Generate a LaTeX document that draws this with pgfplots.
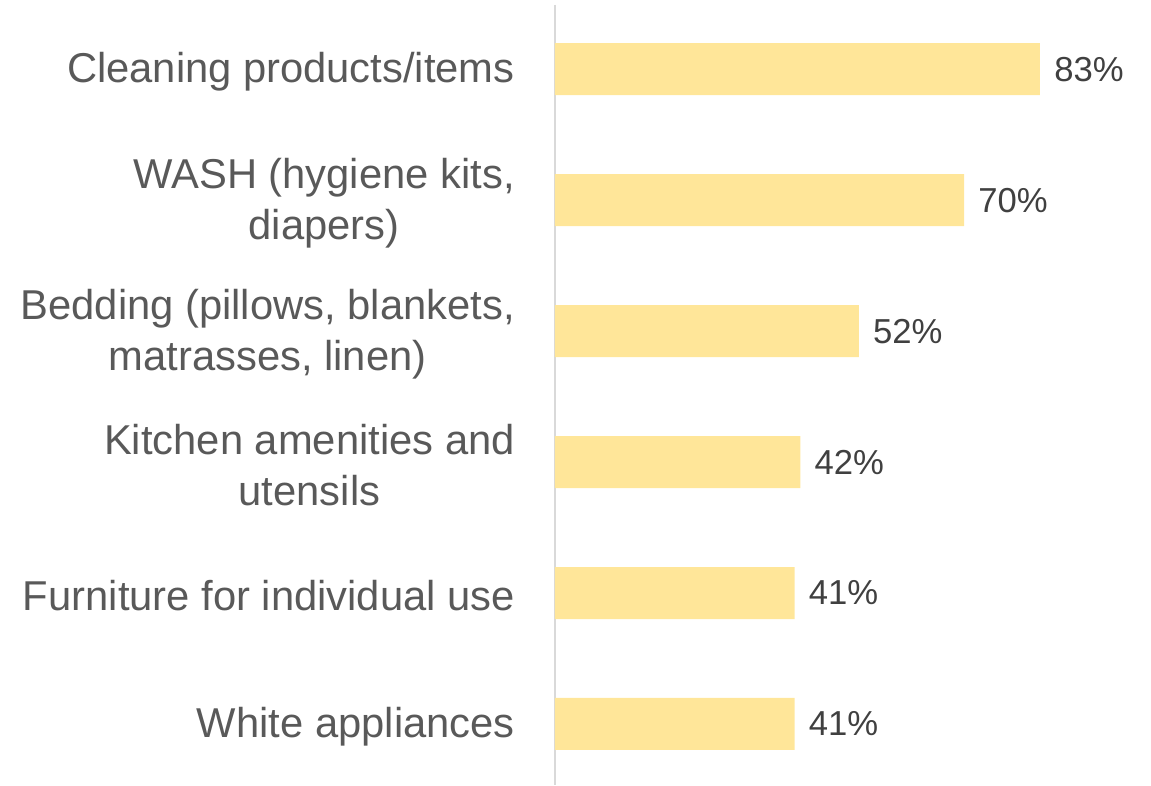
\documentclass[border=0pt]{standalone}
\usepackage{pgfplots}
\pgfplotsset{compat=1.18}
\usepackage{fontspec}
\setmainfont{Liberation Sans}
\definecolor{barc}{HTML}{FFE699}
\definecolor{labc}{HTML}{595959}
\definecolor{valc}{HTML}{404040}
\definecolor{axc}{HTML}{D9D9D9}
\begin{document}
\begin{tikzpicture}
\begin{axis}[
  xbar, bar width=39pt,
  scale only axis, width=447pt, height=585pt,
  xmin=0, xmax=102, ymin=-0.49, ymax=5.466, y dir=reverse,
  axis x line=none, axis y line*=left,
  y axis line style={draw=axc, line width=1.2pt, -},
  ytick={0,1,2,3,4,5}, major tick length=0pt,
  yticklabels={{Cleaning products/items},{WASH (hygiene kits,\\diapers)},{Bedding (pillows, blankets,\\matrasses, linen)},{Kitchen amenities and\\utensils},{Furniture for individual use},{White appliances}},
  yticklabel style={font=\fontsize{31.3}{38.3}\selectfont, text=labc, align=center, inner sep=0pt, xshift=-30pt, yshift=-2.25pt},
  /pgf/number format/assume math mode=true,
  nodes near coords={\pgfmathprintnumber{\pgfplotspointmeta}\%},
  point meta=x,
  every node near coord/.append style={font=\fontsize{26}{30}\selectfont, text=valc, anchor=west, inner sep=0pt, xshift=10.5pt},
]
\addplot[fill=barc, draw=none] coordinates {(83,0) (70,1) (52,2) (42,3) (41,4) (41,5)};
\end{axis}
\pgfresetboundingbox
\path[use as bounding box] (current axis.south west) ++(-416.25pt,0) rectangle ++(863.25pt,588.75pt);
\end{tikzpicture}
\end{document}
